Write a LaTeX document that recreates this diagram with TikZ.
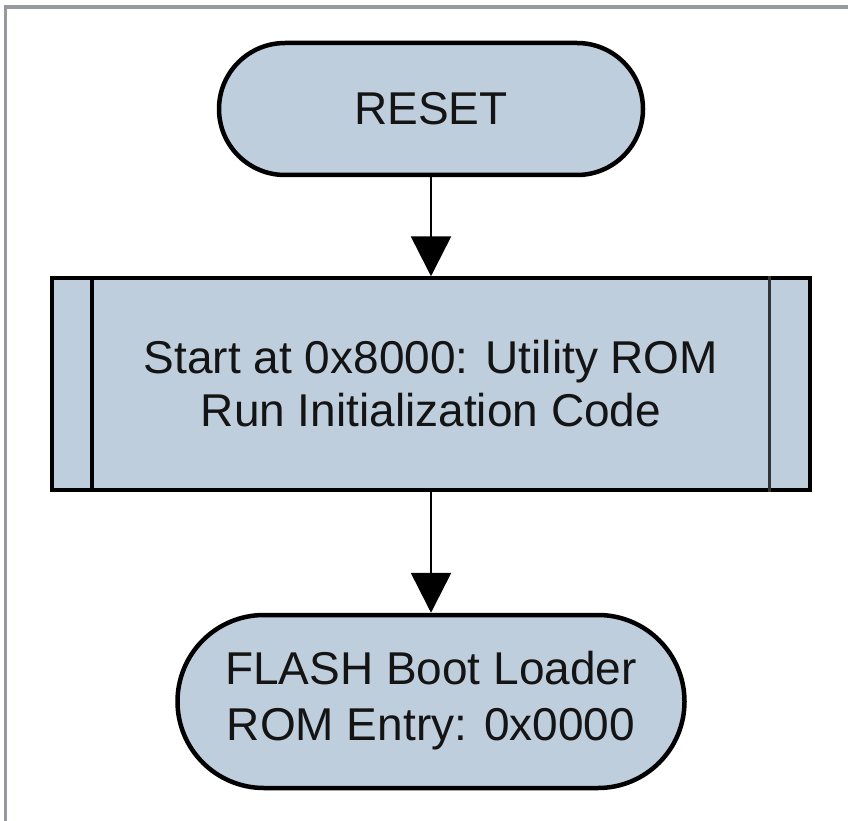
\documentclass[tikz,border=0pt]{standalone}
\usepackage{fontspec}
\setmainfont{Liberation Sans}
\usetikzlibrary{shapes.misc,arrows.meta,calc}
\definecolor{boxfill}{RGB}{191,206,221}
\definecolor{framegray}{RGB}{150,154,158}
\definecolor{inkc}{RGB}{20,20,20}
\begin{document}
\begin{tikzpicture}[x=1pt,y=1pt,
  term/.style={rounded rectangle, draw=black, line width=4.5pt, fill=boxfill, align=center, inner sep=0pt, text=inkc},
  procbox/.style={rectangle, draw=black, line width=3.5pt, fill=boxfill, align=center, inner sep=0pt, minimum width=758pt, minimum height=212pt, text=inkc, font=\fontsize{46}{53}\selectfont},
  flow/.style={line width=2.6pt, -{Triangle[width=40pt,length=40pt]}}]
\useasboundingbox (0,0) rectangle (848,-821);
\fill[white] (0,0) rectangle (848,-821);
\draw[framegray, line width=4pt] (4,-7.5) -- (848,-7.5);
\draw[framegray, line width=3pt] (5.5,-6) -- (5.5,-821);
\node[term, minimum width=424pt, minimum height=132pt, font=\fontsize{46}{53}\selectfont] (reset) at (431,-109) {RESET};
\node[procbox] (proc) at (431,-384) {Start at 0x8000: Utility ROM\\Run Initialization Code};
\node[term, minimum width=507pt, minimum height=173pt, font=\fontsize{46}{56}\selectfont] (flash) at (431,-701.5) {\raisebox{-4pt}{\begin{tabular}{@{}c@{}}FLASH Boot Loader\\ROM Entry: 0x0000\end{tabular}}};
\draw[line width=4pt] ($(proc.north west)+(42,0)$) -- ($(proc.south west)+(42,0)$);
\draw[line width=3pt, black!80] ($(proc.north east)+(-42,0)$) -- ($(proc.south east)+(-42,0)$);
\draw[flow] (reset.south) -- (proc.north);
\draw[flow] (proc.south) -- (flash.north);
\end{tikzpicture}
\end{document}
